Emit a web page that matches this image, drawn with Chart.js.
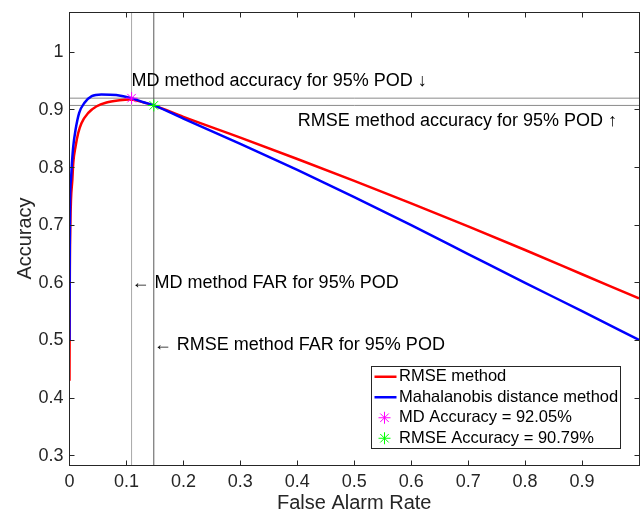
<!DOCTYPE html>
<html>
<head>
<meta charset="utf-8">
<script src="https://cdn.jsdelivr.net/npm/chart.js@4.4.0/dist/chart.umd.min.js"></script>
<style>
    html, body { margin: 0; padding: 0; background: #fff; overflow: hidden; width: 641px; height: 515px; }
    #wrap { width: 646px; height: 515px; }
</style>
</head>
<body>
<div id="wrap"><canvas id="roc" width="646" height="515"></canvas></div>
<script>
// values
const rmseFar = [0, 0.0005, 0.0015, 0.0026, 0.005, 0.0066, 0.0107, 0.0153, 0.021, 0.033, 0.047, 0.065, 0.088, 0.105, 0.125, 0.148, 0.2, 0.3, 0.4, 0.5, 0.6, 0.7, 0.8, 0.9, 1.0];
const rmseAcc = [0.43, 0.60, 0.70, 0.744, 0.779, 0.808, 0.837, 0.860, 0.877, 0.895, 0.906, 0.913, 0.9167, 0.918, 0.9145, 0.9079, 0.888, 0.852, 0.815, 0.777, 0.738, 0.698, 0.657, 0.615, 0.573];

const mdFar = [0, 0.0004, 0.001, 0.0026, 0.0043, 0.0066, 0.0107, 0.017, 0.026, 0.039, 0.056, 0.082, 0.109, 0.13, 0.148, 0.2, 0.3, 0.4, 0.5, 0.6, 0.7, 0.8, 0.9, 1.0];
const mdAcc = [0.50, 0.65, 0.744, 0.779, 0.808, 0.837, 0.866, 0.895, 0.912, 0.924, 0.927, 0.926, 0.9205, 0.9135, 0.908, 0.885, 0.841, 0.796, 0.749, 0.700, 0.650, 0.600, 0.551, 0.501];

// operating points at 95% POD
const mdPoint = [0.109, 0.9205];
const rmsePoint = [0.148, 0.9079];

const xTicks = [0, 0.1, 0.2, 0.3, 0.4, 0.5, 0.6, 0.7, 0.8, 0.9];
const yTicks = [0.3, 0.4, 0.5, 0.6, 0.7, 0.8, 0.9, 1];
const X_MIN = 0, X_MAX = 1;
const Y_MIN = 0.284, Y_MAX = 1.07;

const notes = [
    {x: mdPoint[0], y: 0.95, text: 'MD method accuracy for 95% POD \u2193'},
    {x: 0.401, y: 0.88, text: 'RMSE method accuracy for 95% POD \u2191'},
    {x: mdPoint[0], y: 0.6, text: '\u2190 MD method FAR for 95% POD'},
    {x: rmsePoint[0], y: 0.493, text: '\u2190 RMSE method FAR for 95% POD'}
];

const FONT = '"Liberation Sans", Arial, Helvetica, sans-serif';
const AXIS_COLOR = '#262626';

function pairs(xs, ys) {
    return xs.map((v, i) => ({x: v, y: ys[i]}));
}

function refLine(points, color) {
    return {
        data: points,
        borderColor: color,
        borderWidth: 1,
        pointRadius: 0,
        showLine: true,
        order: 3
    };
}

const datasets = [
    {
        label: 'RMSE method',
        data: pairs(rmseFar, rmseAcc),
        borderColor: '#ff0000',
        borderWidth: 2.5,
        pointRadius: 0,
        showLine: true,
        cubicInterpolationMode: 'monotone',
        order: 2,
        inLegend: true
    },
    {
        label: 'Mahalanobis distance method',
        data: pairs(mdFar, mdAcc),
        borderColor: '#0000ff',
        borderWidth: 2.5,
        pointRadius: 0,
        showLine: true,
        cubicInterpolationMode: 'monotone',
        order: 1,
        inLegend: true
    },
    {
        label: 'MD Accuracy = 92.05%',
        data: [{x: mdPoint[0], y: mdPoint[1]}],
        borderColor: '#ff00ff',
        backgroundColor: '#ff00ff',
        pointStyle: 'star',
        pointRadius: 6,
        pointBorderWidth: 1,
        showLine: false,
        order: 0,
        inLegend: true
    },
    {
        label: 'RMSE Accuracy = 90.79%',
        data: [{x: rmsePoint[0], y: rmsePoint[1]}],
        borderColor: '#00ff00',
        backgroundColor: '#00ff00',
        pointStyle: 'star',
        pointRadius: 6,
        pointBorderWidth: 1,
        showLine: false,
        order: 0,
        inLegend: true
    },
    refLine([{x: mdPoint[0], y: Y_MIN}, {x: mdPoint[0], y: Y_MAX}], '#a8a8a8'),
    refLine([{x: rmsePoint[0], y: Y_MIN}, {x: rmsePoint[0], y: Y_MAX}], '#5a5a5a'),
    refLine([{x: X_MIN, y: mdPoint[1]}, {x: X_MAX, y: mdPoint[1]}], '#8a8a8a'),
    refLine([{x: X_MIN, y: rmsePoint[1]}, {x: X_MAX, y: rmsePoint[1]}], '#8a8a8a')
];

const align = v => Math.floor(v) + 0.5;

const decorations = {
    id: 'decorations',
    afterDatasetsDraw(chart) {
        const {ctx, chartArea: a, scales: {x, y}} = chart;
        ctx.save();

        // box and inward ticks
        ctx.strokeStyle = AXIS_COLOR;
        ctx.lineWidth = 1;
        const l = align(a.left), r = align(a.right), t = align(a.top), b = align(a.bottom);
        ctx.strokeRect(l, t, r - l, b - t);
        ctx.beginPath();
        xTicks.concat([1]).forEach(v => {
            const px = align(x.getPixelForValue(v));
            ctx.moveTo(px, b); ctx.lineTo(px, b - 5);
            ctx.moveTo(px, t); ctx.lineTo(px, t + 5);
        });
        yTicks.forEach(v => {
            const py = align(y.getPixelForValue(v));
            ctx.moveTo(l, py); ctx.lineTo(l + 5, py);
            ctx.moveTo(r, py); ctx.lineTo(r - 5, py);
        });
        ctx.stroke();

        // text notes
        ctx.fillStyle = '#000';
        ctx.font = '18px ' + FONT;
        ctx.textAlign = 'left';
        ctx.textBaseline = 'middle';
        notes.forEach(n => {
            ctx.fillText(n.text, x.getPixelForValue(n.x), y.getPixelForValue(n.y));
        });

        // legend box
        const items = chart.data.datasets.filter(d => d.inLegend);
        const bx = 371.5, by = 366.5, bw = 249, rowH = 20.5;
        const bh = rowH * items.length;
        ctx.fillStyle = '#fff';
        ctx.fillRect(bx, by, bw, bh);
        ctx.strokeStyle = AXIS_COLOR;
        ctx.strokeRect(bx, by, bw, bh);
        ctx.font = '16.5px ' + FONT;
        items.forEach((d, i) => {
            const cy = by + rowH * (i + 0.5);
            ctx.strokeStyle = d.borderColor;
            ctx.beginPath();
            if (d.showLine) {
                ctx.lineWidth = d.borderWidth;
                ctx.moveTo(bx + 3, cy); ctx.lineTo(bx + 25, cy);
            } else {
                ctx.lineWidth = 1;
                const cx = bx + 13, rr = 6, q = rr * Math.SQRT1_2;
                ctx.moveTo(cx - rr, cy); ctx.lineTo(cx + rr, cy);
                ctx.moveTo(cx, cy - rr); ctx.lineTo(cx, cy + rr);
                ctx.moveTo(cx - q, cy - q); ctx.lineTo(cx + q, cy + q);
                ctx.moveTo(cx - q, cy + q); ctx.lineTo(cx + q, cy - q);
            }
            ctx.stroke();
            ctx.fillStyle = '#000';
            ctx.fillText(d.label, bx + 27.5, cy);
        });
        ctx.restore();
    }
};

new Chart(document.getElementById('roc'), {
    type: 'scatter',
    data: {datasets: datasets},
    options: {
        responsive: false,
        animation: false,
        layout: {padding: {top: 12, right: 1.5, left: 0, bottom: 0}},
        plugins: {
            legend: {display: false},
            tooltip: {enabled: false}
        },
        scales: {
            x: {
                type: 'linear',
                min: X_MIN,
                max: X_MAX,
                grid: {display: false, drawTicks: false},
                border: {display: false},
                afterBuildTicks: s => { s.ticks = xTicks.map(v => ({value: v})); },
                afterFit: s => { s.height = 50; s.paddingLeft = 0; s.paddingRight = 0; },
                ticks: {
                    autoSkip: false,
                    maxRotation: 0,
                    padding: 6,
                    color: AXIS_COLOR,
                    font: {family: FONT, size: 18},
                    callback: v => String(Number(v.toFixed(1)))
                },
                title: {
                    display: true,
                    text: 'False Alarm Rate',
                    color: AXIS_COLOR,
                    font: {family: FONT, size: 20},
                    padding: {top: 0, bottom: 0}
                }
            },
            y: {
                type: 'linear',
                min: Y_MIN,
                max: Y_MAX,
                grid: {display: false, drawTicks: false},
                border: {display: false},
                afterBuildTicks: s => { s.ticks = yTicks.map(v => ({value: v})); },
                afterFit: s => { s.width = 69.5; s.paddingTop = 0; s.paddingBottom = 0; },
                ticks: {
                    autoSkip: false,
                    padding: 6,
                    color: AXIS_COLOR,
                    font: {family: FONT, size: 18},
                    callback: v => String(Number(v.toFixed(1)))
                },
                title: {
                    display: true,
                    text: 'Accuracy',
                    color: AXIS_COLOR,
                    font: {family: FONT, size: 20},
                    padding: {top: 13, bottom: 0}
                }
            }
        }
    },
    plugins: [decorations]
});
</script>
</body>
</html>
